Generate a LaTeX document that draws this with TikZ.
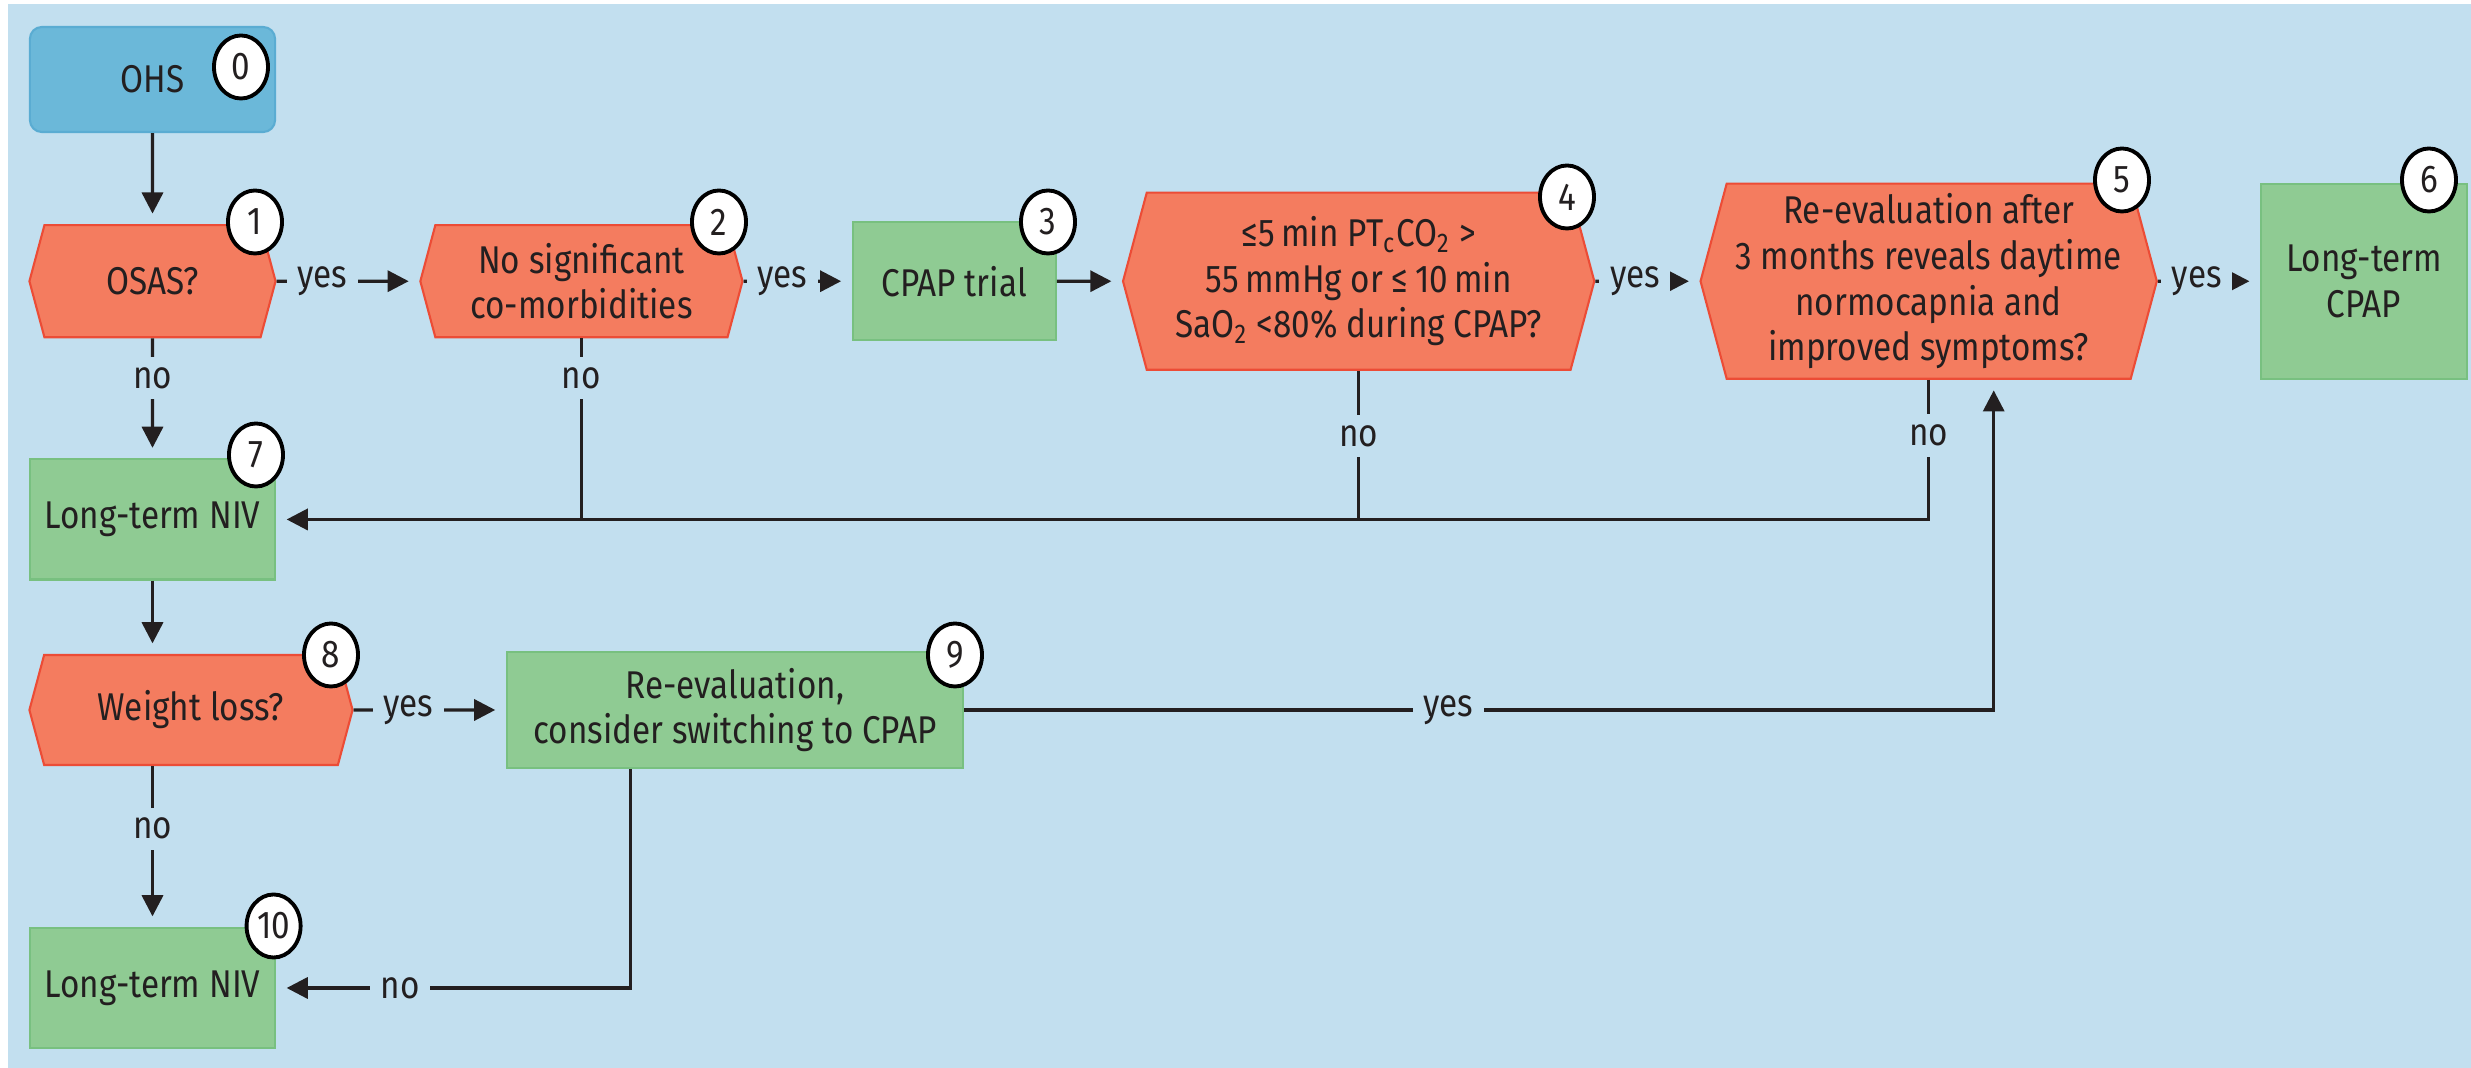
\documentclass[tikz,border=0pt]{standalone}
\usepackage{fontspec}
\setmainfont{Fira Sans}[FakeStretch=0.86]
\usepackage{xcolor}
\usetikzlibrary{arrows.meta,positioning,shapes.symbols,shapes.geometric}
\definecolor{bgblue}{RGB}{194,223,239}
\definecolor{ohsblue}{RGB}{107,184,217}
\definecolor{ohsedge}{RGB}{90,172,210}
\definecolor{hexfill}{RGB}{244,124,95}
\definecolor{hexedge}{RGB}{236,76,54}
\definecolor{boxfill}{RGB}{143,203,147}
\definecolor{boxedge}{RGB}{120,192,128}
\definecolor{inkcolor}{RGB}{35,31,32}

\begin{document}
\begin{tikzpicture}[
    x=0.01cm, y=-0.01cm,
    every node/.style={font=\fontsize{11}{13}\selectfont, text=inkcolor},
    start/.style={rectangle, rounded corners=3.4pt, draw=ohsedge, fill=ohsblue, line width=0.6pt, minimum width=2.45cm, minimum height=1.05cm},
    query/.style={signal, signal to=west and east, signal pointer angle=150, draw=hexedge, fill=hexfill, line width=0.6pt, align=center, inner sep=1pt},
    action/.style={rectangle, draw=boxedge, fill=boxfill, line width=0.6pt, align=center},
    badge/.style={ellipse, draw=black, fill=white, line width=1.1pt, minimum width=0.54cm, minimum height=0.63cm, inner sep=0pt},
    arrow/.style={-{Triangle[length=6pt,width=6pt]}, line width=0.9pt, draw=inkcolor, shorten >=3pt},
    link/.style={line width=0.9pt, draw=inkcolor},
    lbl/.style={fill=bgblue, inner sep=3pt}
]
    \useasboundingbox (0,0) rectangle (2471,1068);
    \fill[bgblue] (8,4) rectangle (2471,1068);

    % top row
    \node[start] (ohs) at (152.5,79.5) {OHS};
    \node[query, minimum width=2.46cm, minimum height=1.12cm, below=0.91cm of ohs] (osas) {OSAS?};
    \node[query, minimum width=3.22cm, minimum height=1.12cm, right=1.425cm of osas] (comorb) {No significant\\co-morbidities};
    \node[action, minimum width=2.03cm, minimum height=1.18cm, right=1.08cm of comorb] (trial) {CPAP trial};
    \node[query, minimum width=4.71cm, minimum height=1.77cm, right=0.65cm of trial] (tcco) {≤5\,min PT\textsubscript{c}CO\textsubscript{2} >\\55\,mmHg or ≤\,10\,min\\SaO\textsubscript{2} <80\% during CPAP?};
    \node[query, minimum width=4.56cm, minimum height=1.95cm, right=1.04cm of tcco] (reeval) {Re-evaluation after\\3 months reveals daytime\\normocapnia and\\improved symptoms?};
    \node[action, minimum width=2.06cm, minimum height=1.95cm, right=1.02cm of reeval] (ltcpap) {Long-term\\CPAP};

    % left column and bottom row
    \node[action, minimum width=2.45cm, minimum height=1.2cm, below=1.2cm of osas] (niv) {Long-term NIV};
    \node[query, minimum width=3.23cm, minimum height=1.1cm] (wloss) at (191,710) {Weight loss?};
    \node[action, minimum width=4.56cm, minimum height=1.16cm, right=1.52cm of wloss] (switch) {Re-evaluation,\\consider switching to CPAP};
    \node[action, minimum width=2.45cm, minimum height=1.2cm] (nivend) at (niv |- 0,988) {Long-term NIV};

    % connectors
    \draw[arrow] (ohs) -- (osas);
    \draw[arrow] (osas) -- node[lbl, pos=0.32] {yes} (comorb);
    \draw[arrow] (comorb) -- node[lbl, pos=0.36] {yes} (trial);
    \draw[arrow] (trial) -- (tcco);
    \draw[arrow] (tcco) -- node[lbl, pos=0.38] {yes} (reeval);
    \draw[arrow] (reeval) -- node[lbl, pos=0.38] {yes} (ltcpap);
    \draw[arrow] (osas) -- node[lbl, pos=0.33] {no} (niv);
    \draw[arrow] (reeval.south) |- node[lbl, pos=0.2] {no} (niv.east);
    \draw[link] (tcco.south) -- node[lbl, pos=0.44] {no} (tcco.south |- niv.east);
    \draw[link] (comorb.south) -- node[lbl, pos=0.22] {no} (comorb.south |- niv.east);
    \draw[arrow] (niv.south) -- (niv.south |- wloss.north);
    \draw[arrow] (wloss) -- node[lbl, pos=0.36] {yes} (switch);
    \draw[arrow] (nivend |- wloss.south) -- node[lbl, pos=0.39] {no} (nivend);
    \draw[arrow] (switch.east) -| node[lbl, pos=0.235] {yes} ([xshift=0.65cm]reeval.south);
    \coordinate (swno) at ([xshift=-1.04cm]switch.south);
    \draw[arrow] (swno) |- node[lbl, pos=0.825] {no} (nivend.east);

    % step numbers
    \node[badge] (b0) at (241,67) {0};
    \node[badge] (b1) at (255,222) {1};
    \node[badge] (b2) at (719,222) {2};
    \node[badge] (b3) at (1048,222) {3};
    \node[badge] (b4) at (1567,197) {4};
    \node[badge] (b5) at (2122,180) {5};
    \node[badge] (b6) at (2429,180) {6};
    \node[badge] (b7) at (256,455) {7};
    \node[badge] (b8) at (331,655) {8};
    \node[badge] (b9) at (955,655) {9};
    \node[badge] (b10) at (273.6,926) {10};
\end{tikzpicture}
\end{document}
